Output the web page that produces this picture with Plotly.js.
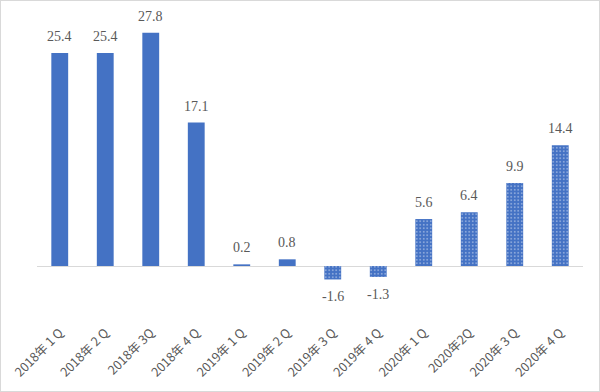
<!DOCTYPE html>
<html>
<head>
<meta charset="utf-8">
<script src="https://cdn.plot.ly/plotly-3.0.1.min.js"></script>
<style>
  html, body { margin: 0; padding: 0; background: #fff; }
  #chart { width: 598px; height: 390px; border: 1px solid #d9d9d9; }
</style>
</head>
<body>
<div id="chart"></div>
<script>
const categories = ["2018年 1 Q", "2018年 2 Q", "2018年 3Q", "2018年 4 Q",
                    "2019年 1 Q", "2019年 2 Q", "2019年 3 Q", "2019年 4 Q",
                    "2020年 1 Q", "2020年2Q", "2020年 3 Q", "2020年 4 Q"];
const values = [25.4, 25.4, 27.8, 17.1, 0.2, 0.8, -1.6, -1.3, 5.6, 6.4, 9.9, 14.4];
const valueLabels = ["25.4", "25.4", "27.8", "17.1", "0.2", "0.8", "-1.6", "-1.3", "5.6", "6.4", "9.9", "14.4"];

const blue = "#4472C4";
const shapes = categories.map((c, i) => (i >= 6 ? "." : ""));

const trace = {
  type: "bar",
  x: categories,
  y: values,
  marker: {
    color: blue,
    line: { width: 0 },
    pattern: { shape: shapes, bgcolor: blue, fgcolor: "#ffffff", size: 3.5, solidity: 0.18, fillmode: "overlay" }
  },
  hoverinfo: "none"
};

const annotations = categories.map((c, i) => ({
  x: c,
  y: values[i],
  xref: "x",
  yref: "y",
  text: valueLabels[i],
  showarrow: false,
  yanchor: values[i] >= 0 ? "bottom" : "top",
  yshift: values[i] >= 0 ? 7 : -8,
  font: { family: "Liberation Serif, Times New Roman, serif", size: 14, color: "#595959" }
}));

const layout = {
  width: 598,
  height: 390,
  margin: { l: 36, r: 16, t: 19, b: 69 },
  paper_bgcolor: "#ffffff",
  plot_bgcolor: "#ffffff",
  showlegend: false,
  bargap: 0.63,
  annotations: annotations,
  xaxis: {
    type: "category",
    tickangle: -45,
    showline: false,
    showgrid: false,
    ticks: "",
    tickfont: { family: "Noto Sans CJK SC, sans-serif", size: 12.5, color: "#595959" },
    automargin: false
  },
  yaxis: {
    range: [-6.67, 29.32],
    showgrid: false,
    showticklabels: false,
    showline: false,
    ticks: "",
    zeroline: true,
    zerolinecolor: "#d9d9d9",
    zerolinewidth: 1,
    fixedrange: true
  }
};

Plotly.newPlot("chart", [trace], layout, { staticPlot: true, displayModeBar: false });
</script>
</body>
</html>
